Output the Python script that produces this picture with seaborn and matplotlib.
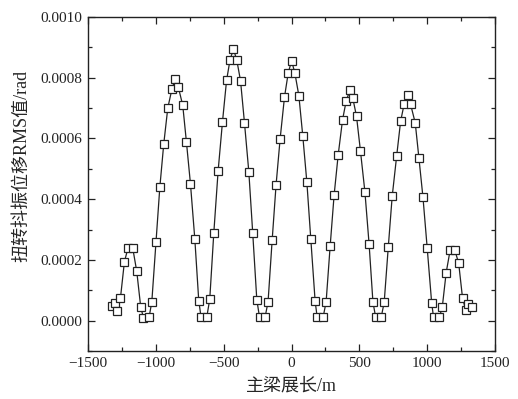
import matplotlib
matplotlib.use("Agg")
import matplotlib.pyplot as plt
from matplotlib.ticker import MultipleLocator, FormatStrFormatter
import seaborn as sns
import pandas as pd

# Position along the main girder (m)
span_m = [-1326, -1303, -1286, -1261, -1232, -1205, -1171, -1141, -1112, -1092,
          -1050, -1030, -999, -971, -942, -912, -881, -856, -834, -802,
          -775, -745, -713, -684, -667, -625, -603, -573, -541, -509,
          -479, -453, -428, -404, -376, -347, -315, -286, -256, -236,
          -195, -173, -143, -114, -84, -52, -25, 0, 24, 54,
          83, 113, 142, 174, 189, 233, 255, 285, 314, 344,
          376, 403, 430, 452, 479, 508, 541, 572, 600, 620,
          661, 683, 713, 742, 775, 804, 831, 856, 878, 912,
          939, 969, 1000, 1033, 1047, 1089, 1111, 1140, 1170, 1202,
          1232, 1261, 1286, 1303, 1328]

# Torsional buffeting displacement RMS (rad)
rms_rad = [4.77e-5, 5.66e-5, 3.12e-5, 7.53e-5, 1.94e-4, 2.40e-4, 2.40e-4, 1.62e-4, 4.57e-5, 9.5e-6,
           1.15e-5, 6.2e-5, 2.60e-4, 4.39e-4, 5.82e-4, 7.01e-4, 7.64e-4, 7.97e-4, 7.68e-4, 7.09e-4,
           5.89e-4, 4.50e-4, 2.69e-4, 6.6e-5, 1.15e-5, 1.15e-5, 7.0e-5, 2.89e-4, 4.94e-4, 6.55e-4,
           7.91e-4, 8.60e-4, 8.94e-4, 8.59e-4, 7.90e-4, 6.52e-4, 4.91e-4, 2.88e-4, 6.9e-5, 1.15e-5,
           1.15e-5, 6.2e-5, 2.64e-4, 4.47e-4, 5.99e-4, 7.36e-4, 8.14e-4, 8.56e-4, 8.17e-4, 7.41e-4,
           6.08e-4, 4.56e-4, 2.69e-4, 6.4e-5, 1.15e-5, 1.15e-5, 6.2e-5, 2.47e-4, 4.14e-4, 5.46e-4,
           6.61e-4, 7.24e-4, 7.58e-4, 7.32e-4, 6.73e-4, 5.59e-4, 4.24e-4, 2.51e-4, 6.2e-5, 1.15e-5,
           1.15e-5, 6.0e-5, 2.41e-4, 4.09e-4, 5.42e-4, 6.56e-4, 7.15e-4, 7.44e-4, 7.12e-4, 6.51e-4,
           5.36e-4, 4.06e-4, 2.40e-4, 5.9e-5, 1.05e-5, 1.05e-5, 4.34e-5, 1.58e-4, 2.34e-4, 2.34e-4,
           1.90e-4, 7.3e-5, 3.35e-5, 5.56e-5, 4.44e-5]

x_label = "主梁展长/m"
y_label = "扭转抖振位移RMS值/rad"

sns.set_style("ticks")
plt.rcParams["font.family"] = ["Liberation Serif", "Noto Sans CJK SC"]
plt.rcParams["axes.unicode_minus"] = True

df = pd.DataFrame({"x": span_m, "y": rms_rad})

fig = plt.figure(figsize=(5.18, 3.99), dpi=100)
ax = fig.add_axes([0.170, 0.1203, 0.7856, 0.8371])

sns.lineplot(data=df, x="x", y="y", sort=False, estimator=None, ax=ax,
             color="#222222", linewidth=0.9, marker="s", markersize=5.2,
             markerfacecolor="white", markeredgecolor="#222222",
             markeredgewidth=0.9)

ax.set_xlim(-1500, 1500)
ax.set_ylim(-0.0001, 0.0010)
ax.xaxis.set_major_locator(MultipleLocator(500))
ax.xaxis.set_minor_locator(MultipleLocator(250))
ax.yaxis.set_major_locator(MultipleLocator(0.0002))
ax.yaxis.set_minor_locator(MultipleLocator(0.0001))
ax.yaxis.set_major_formatter(FormatStrFormatter("%.4f"))

ax.tick_params(which="both", direction="in", top=True, right=True,
               colors="#222222", width=0.9)
ax.tick_params(which="major", length=5, labelsize=11, pad=4)
ax.tick_params(which="minor", length=3)
for s in ax.spines.values():
    s.set_linewidth(1.0)
    s.set_color("#222222")

ax.set_xlabel(x_label, fontsize=13, labelpad=6)
ax.set_ylabel(y_label, fontsize=13)
ax.yaxis.set_label_coords(-0.143, 0.555)

fig.savefig("out.png", dpi=100)
